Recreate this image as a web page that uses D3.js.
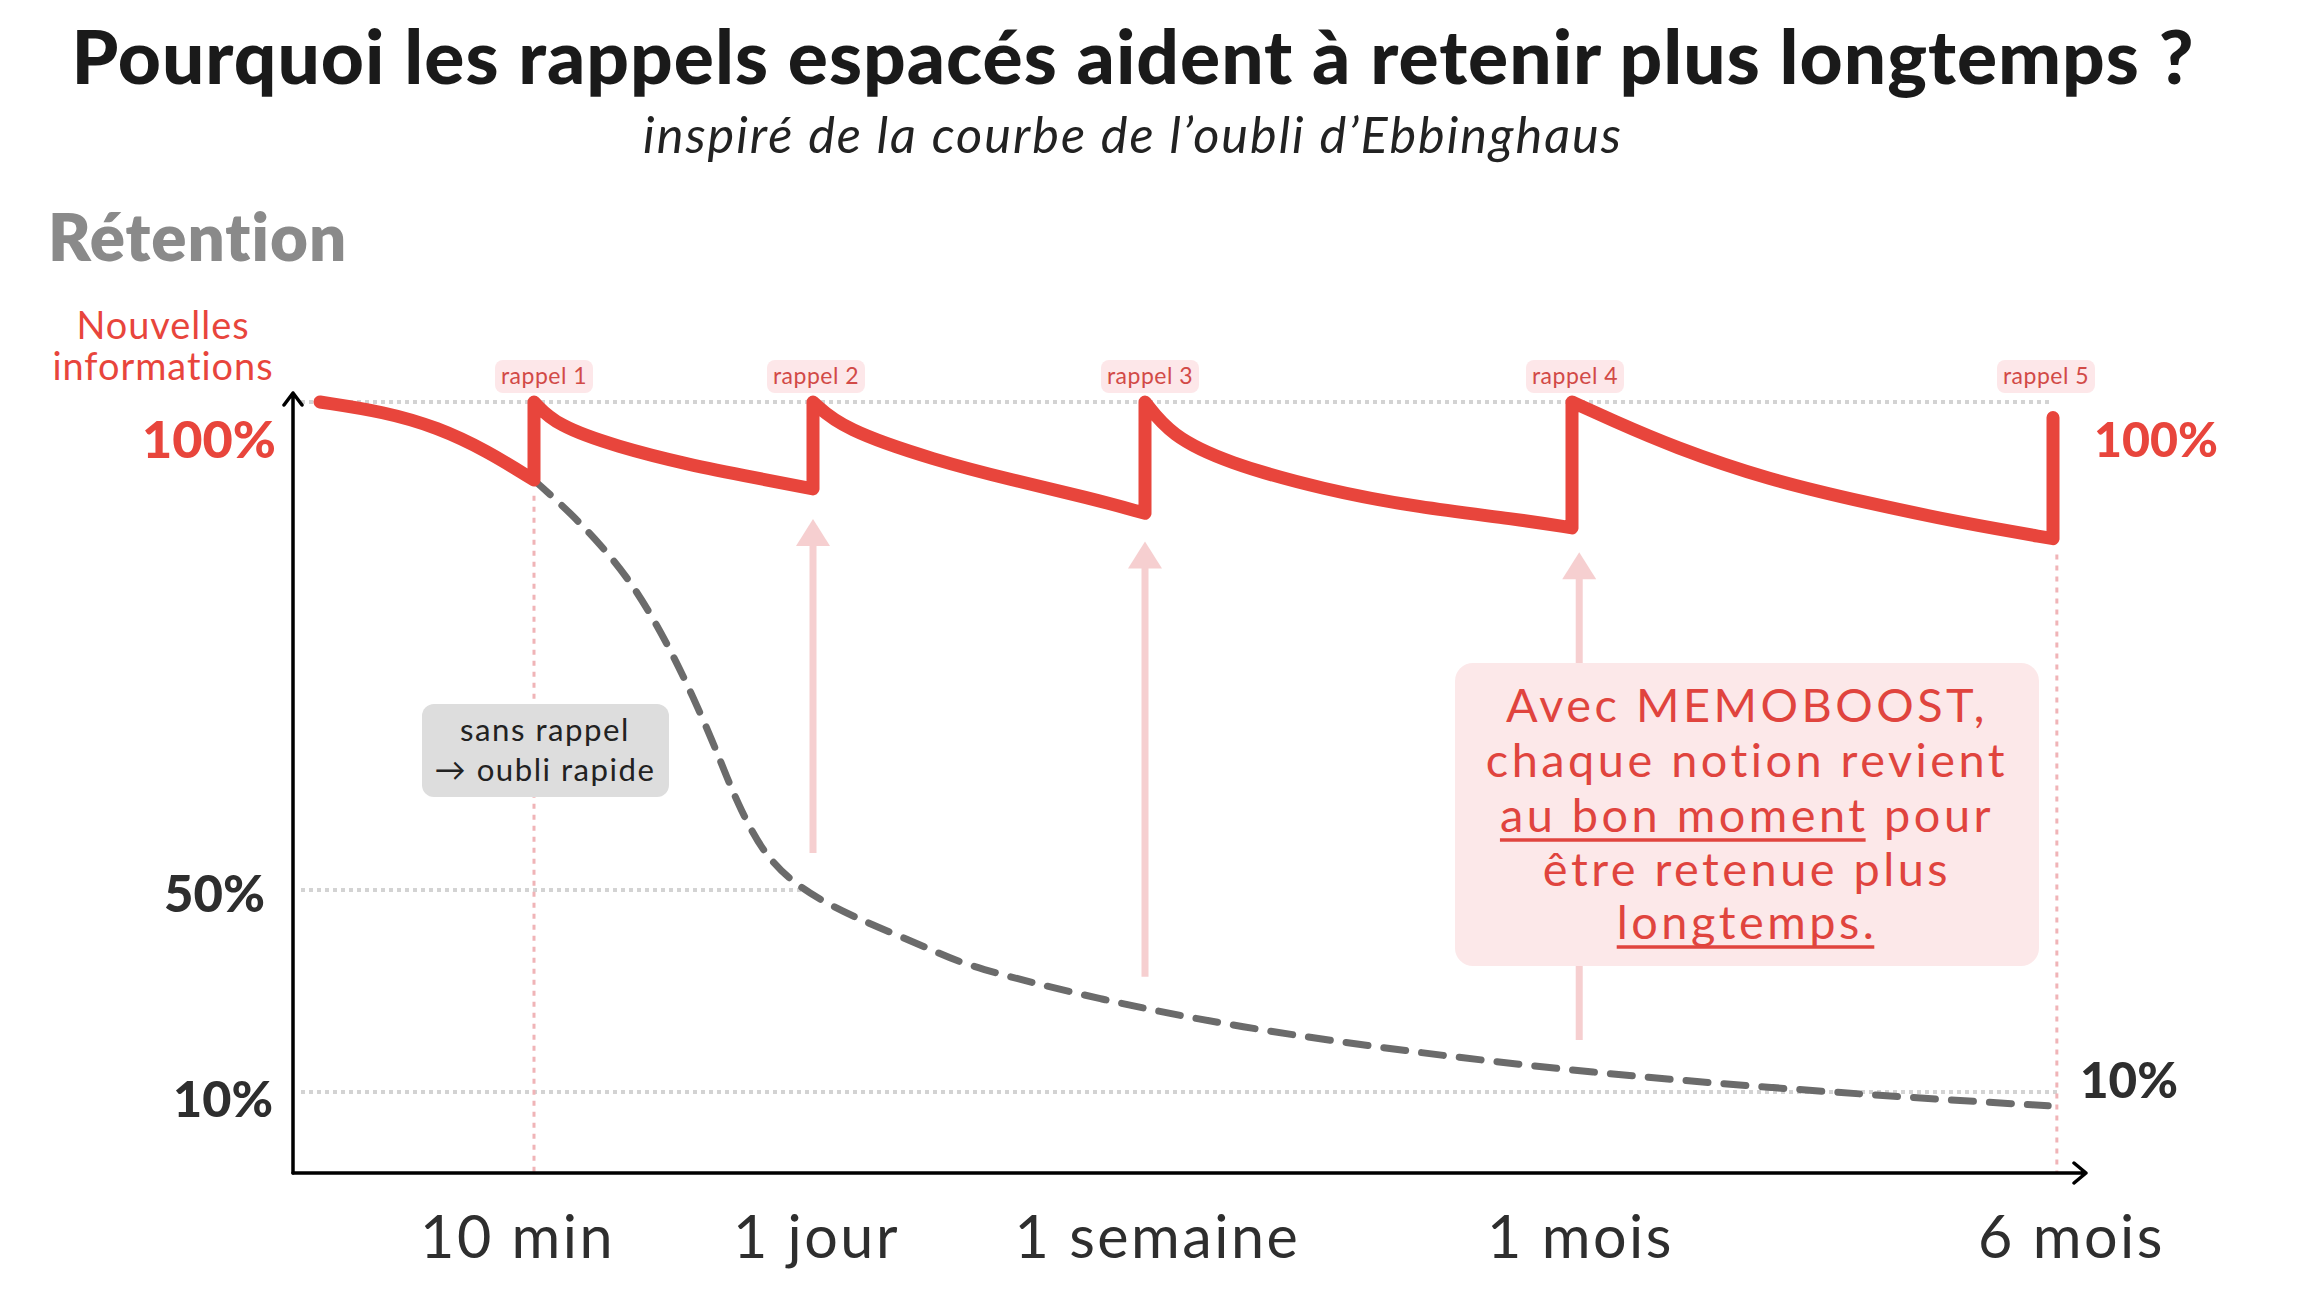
<!DOCTYPE html>
<html><head><meta charset="utf-8">
<script src="https://cdn.jsdelivr.net/npm/d3@7"></script>
<style>
html,body{margin:0;padding:0;background:#fff;}
svg{display:block;}
</style></head>
<body><svg id="c" width="2300" height="1304"></svg>
<script>
// ---------- DATA ----------
const timeTicks = [1, 2, 3, 4, 5];
const timeLabels = ["10 min", "1 jour", "1 semaine", "1 mois", "6 mois"];
const rappelLabels = ["rappel 1", "rappel 2", "rappel 3", "rappel 4", "rappel 5"];
const gridValues = [100, 50, 10];
const leftTickLabels = ["100%", "50%", "10%"];
const rightTickLabels = ["100%", "10%"];

// retention with spaced recalls: [time index, retention %]
const seg0 = [[0,100],[0.3,99],[0.55,97.4],[0.78,95],[1,92]];
const seg1 = [[1,100],[1.08,97.6],[1.3,95.4],[1.55,93.6],[1.8,92.2],[2,91.1]];
const seg2 = [[2,100],[2.09,97.2],[2.37,94],[2.6,92],[2.83,90.2],[3,88.6]];
const seg3 = [[3,100],[3.06,96.6],[3.19,93.8],[3.42,91],[3.64,89.2],[3.87,88],[4,87.1]];
const seg4 = [[4,100],[4.08,98.2],[4.21,95.4],[4.41,92],[4.61,89.7],[4.81,87.6],[5,86]];
const finalRecallTop = 98.4;

// retention without recall
const noRecall = [[1,92],[1.136,88.5],[1.247,85.1],[1.333,82.1],[1.416,78.4],[1.498,74.1],[1.57,69.8],
  [1.642,65.1],[1.692,61.5],[1.738,58.4],[1.821,53.8],[1.928,50.7],[2.06,46.6],[2.193,42.7],[2.361,38.1],
  [2.467,34.8],[2.87,28.2],[3.213,22.9],[3.63,17.8],[4.044,13.8],[4.414,10.8],[4.786,9],[4.99,8.3]];

// recall arrows
const arrowT = [2, 3, 4.015];
const arrowTop = [88, 85.7, 84.6];
const arrowBottom = [53.8, 32.8, 20.3];

const noteLines = ["sans rappel", "→ oubli rapide"];
const calloutLines = [
  [["Avec MEMOBOOST,", false]],
  [["chaque notion revient", false]],
  [["au bon moment", true], [" pour", false]],
  [["être retenue plus", false]],
  [["longtemps.", true]]
];

// ---------- LAYOUT ----------
const svg = d3.select("#c");
const RED = "#e8453c", PINK = "#f6cfd0", DARK = "#2e2e2e";
const x = d3.scaleLinear().domain([0,1,2,3,4,5]).range([320,534,813,1145,1572,2053]);
const y = d3.scaleLinear().domain([0,10,50,100]).range([1173,1092,890,402]);
const axisX0 = 293, axisY0 = 1173, axisXEnd = 2086, axisYTop = 393;

function fit(sel, w) {
  const fs = parseFloat(sel.attr("font-size"));
  const cw = sel.node().getComputedTextLength();
  sel.attr("font-size", fs * w / cw);
  return sel;
}

// Title
fit(svg.append("text").attr("x", 1133).attr("y", 84).attr("text-anchor", "middle")
  .attr("font-family", "Lato").attr("font-weight", 900).attr("font-size", 64).attr("fill", "#1a1a1a")
  .attr("letter-spacing", 1)
  .text("Pourquoi les rappels espacés aident à retenir plus longtemps ?"), 2134);
fit(svg.append("text").attr("x", 1133).attr("y", 153).attr("text-anchor", "middle")
  .attr("font-family", "Lato").attr("font-style", "italic").attr("font-weight", 400).attr("font-size", 38)
  .attr("fill", "#222").attr("letter-spacing", 2)
  .text("inspiré de la courbe de l’oubli d’Ebbinghaus"), 1009);

// Y title
fit(svg.append("text").attr("x", 48).attr("y", 261).attr("font-family", "Lato").attr("font-weight", 800)
  .attr("font-size", 60).attr("fill", "#8a8a8a").attr("letter-spacing", 1).text("Rétention"), 300);
const infoText = fit(svg.append("text").attr("x", 163).attr("y", 380).attr("text-anchor", "middle").attr("font-family", "Lato")
  .attr("font-size", 31).attr("letter-spacing", 1).attr("fill", RED).text("informations"), 224);
svg.append("text").attr("x", 163).attr("y", 339).attr("text-anchor", "middle").attr("font-family", "Lato")
  .attr("font-size", infoText.attr("font-size")).attr("letter-spacing", 1).attr("fill", RED).text("Nouvelles");

// grid lines (dotted)
const gridEnd = [x(5), x(1.96), x(5) + 6];
svg.append("g").selectAll("line").data(gridValues).join("line")
  .attr("x1", axisX0 + 8).attr("x2", (d,i) => gridEnd[i])
  .attr("y1", d => y(d)).attr("y2", d => y(d))
  .attr("stroke", "#d3d3d3").attr("stroke-width", 4).attr("stroke-dasharray", "4,4");

// pink vertical dotted markers at first and last recall
svg.append("g").selectAll("line").data([[1, 91], [5.008, 85]]).join("line")
  .attr("x1", d => x(d[0])).attr("x2", d => x(d[0]))
  .attr("y1", d => y(d[1]) + 6).attr("y2", axisY0)
  .attr("stroke", "#f0b4b7").attr("stroke-width", 3).attr("stroke-dasharray", "5,6");

// recall arrows
const ag = svg.append("g");
arrowT.forEach((t, i) => {
  const ax = x(t), top = y(arrowTop[i]), bot = y(arrowBottom[i]);
  ag.append("line").attr("x1", ax).attr("x2", ax).attr("y1", top + 20).attr("y2", bot)
    .attr("stroke", PINK).attr("stroke-width", 7);
  ag.append("path").attr("d", `M${ax},${top}L${ax-17},${top+27}L${ax+17},${top+27}Z`).attr("fill", PINK);
});

// callout box
svg.append("rect").attr("x", 1455).attr("y", 663).attr("width", 584).attr("height", 303).attr("rx", 18)
  .attr("fill", "#fce8e9");
const cg = svg.append("g");
const calloutBase = [722, 777, 832, 886, 939];
let calloutFs = 40;
{
  const probe = cg.append("text").attr("font-family", "Lato").attr("font-size", 40).attr("letter-spacing", 3.5)
    .text("chaque notion revient");
  calloutFs = 40 * 535 / probe.node().getComputedTextLength();
  probe.remove();
}
calloutLines.forEach((parts, li) => {
  const t = cg.append("text").attr("x", 1747).attr("y", calloutBase[li]).attr("text-anchor", "middle")
    .attr("font-family", "Lato").attr("font-size", calloutFs).attr("letter-spacing", 3.5).attr("fill", "#e0443e");
  const spans = parts.map(p => t.append("tspan").text(p[0]));
  parts.forEach((p, pi) => {
    if (p[1]) {
      const bb = spans[pi].node().getBBox();
      cg.append("line").attr("x1", bb.x).attr("x2", bb.x + bb.width - 3)
        .attr("y1", calloutBase[li] + 8).attr("y2", calloutBase[li] + 8)
        .attr("stroke", "#e0443e").attr("stroke-width", 3.5);
    }
  });
});

// note box
svg.append("rect").attr("x", 422).attr("y", 704).attr("width", 247).attr("height", 93).attr("rx", 12)
  .attr("fill", "#dddddd");
const noteFsProbe = svg.append("text").attr("font-family", "Lato").attr("font-size", 30).attr("letter-spacing", 1.5).text(noteLines[1]);
const noteFs = 30 * 222 / noteFsProbe.node().getComputedTextLength();
noteFsProbe.remove();
svg.append("g").selectAll("text").data(noteLines).join("text")
  .attr("x", 545).attr("y", (d,i) => 741 + i * 40).attr("text-anchor", "middle")
  .attr("font-family", "Lato").attr("font-size", noteFs).attr("letter-spacing", 1.5).attr("fill", "#222").text(d => d);

// no-recall dashed curve
const lineGen = d3.line().x(d => x(d[0])).y(d => y(d[1])).curve(d3.curveBasis);
svg.append("path").attr("d", lineGen(noRecall)).attr("fill", "none").attr("stroke", "#6b6b6b")
  .attr("stroke-width", 7).attr("stroke-dasharray", "22,16").attr("stroke-linecap", "round");

// spaced recall curve
const segs = [seg0, seg1, seg2, seg3, seg4];
let dStr = segs.map((s, i) => { const p = lineGen(s); return i === 0 ? p : p.replace(/^M/, "L"); }).join("");
dStr += `L${x(5)},${y(finalRecallTop)}`;
svg.append("path").attr("d", dStr).attr("fill", "none").attr("stroke", RED).attr("stroke-width", 13)
  .attr("stroke-linejoin", "round").attr("stroke-linecap", "round");

// rappel labels
const labelNudge = [10, 3, 5, 3, -7];
const rg = svg.append("g").selectAll("g").data(rappelLabels).join("g")
  .attr("transform", (d, i) => `translate(${x(timeTicks[i]) + labelNudge[i]},0)`);
rg.append("rect").attr("x", -49).attr("y", 360).attr("width", 98).attr("height", 33).attr("rx", 8).attr("fill", "#fde7e9");
rg.append("text").attr("y", 384).attr("text-anchor", "middle").attr("font-family", "Lato").attr("font-size", 23)
  .attr("letter-spacing", 0.5).attr("fill", "#d24a47").text(d => d);

// axes
const axG = svg.append("g").attr("fill", "none").attr("stroke", "#000").attr("stroke-width", 3.5)
  .attr("stroke-linecap", "round").attr("stroke-linejoin", "round");
axG.append("path").attr("d", `M${axisX0},${axisY0}V${axisYTop}M${axisX0-9},${axisYTop+12}L${axisX0},${axisYTop}L${axisX0+9},${axisYTop+12}`);
axG.append("path").attr("d", `M${axisX0},${axisY0}H${axisXEnd}M${axisXEnd-12},${axisY0-10}L${axisXEnd},${axisY0}L${axisXEnd-12},${axisY0+10}`);

// x tick labels via d3 axis
const xLabelNudge = [-17, 3, 12, 8, 18];
const xAxis = d3.axisBottom(x).tickValues(timeTicks).tickFormat((d, i) => timeLabels[i]).tickSize(0);
const xa = svg.append("g").attr("transform", `translate(0,${axisY0})`).call(xAxis);
xa.select(".domain").remove();
xa.selectAll("text").attr("font-family", "Lato").attr("font-size", 50).attr("fill", DARK)
  .attr("letter-spacing", 2.5).attr("dy", null).attr("y", 85)
  .attr("dx", (d, i) => xLabelNudge[i]);
{
  const semaine = xa.selectAll("text").filter((d, i) => i === 2);
  const w = semaine.node().getComputedTextLength();
  const fs = 50 * 290 / w;
  xa.selectAll("text").attr("font-size", fs);
}

// y labels
const leftCfg = [{x: 276, y: 458, w: 134, c: RED}, {x: 265, y: 912, w: 101, c: DARK}, {x: 273, y: 1117, w: 100, c: DARK}];
leftTickLabels.forEach((t, i) => {
  fit(svg.append("text").attr("x", leftCfg[i].x).attr("y", leftCfg[i].y).attr("text-anchor", "end")
    .attr("font-family", "Lato").attr("font-weight", 900).attr("font-size", 64).attr("fill", leftCfg[i].c).text(t), leftCfg[i].w);
});
const rightCfg = [{x: 2094, y: 457, w: 124, c: RED}, {x: 2080, y: 1098, w: 98, c: DARK}];
rightTickLabels.forEach((t, i) => {
  fit(svg.append("text").attr("x", rightCfg[i].x).attr("y", rightCfg[i].y)
    .attr("font-family", "Lato").attr("font-weight", 900).attr("font-size", 64).attr("fill", rightCfg[i].c).text(t), rightCfg[i].w);
});
</script>
</body></html>
